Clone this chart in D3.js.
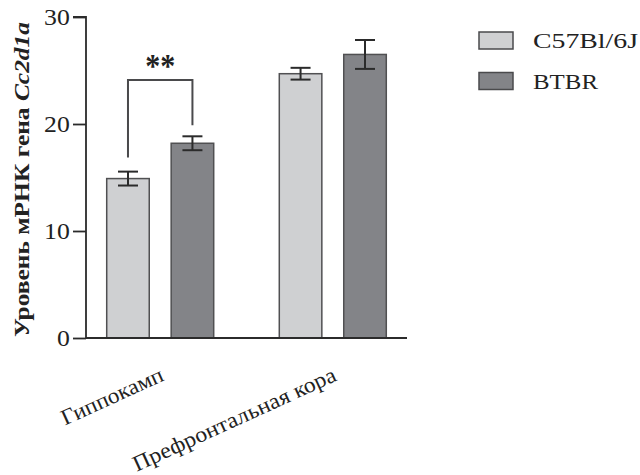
<!DOCTYPE html>
<html>
<head>
<meta charset="utf-8">
<script src="https://cdn.jsdelivr.net/npm/d3@7"></script>
<style>
  html, body { margin: 0; padding: 0; background: #fff; }
  svg { display: block; }
  text { font-family: "Liberation Serif", "DejaVu Serif", serif; fill: #222; }
</style>
</head>
<body>
<svg id="chart" width="640" height="475"></svg>
<script>
// Brain regions and mouse strains
const regions = ["Гиппокамп", "Префронтальная кора"];
const strains = ["C57Bl/6J", "BTBR"];
// Mean expression and SEM per strain, in the order of `regions`
const c57Means = [14.9, 24.7];
const c57Errors = [0.65, 0.55];
const btbrMeans = [18.2, 26.5];
const btbrErrors = [0.65, 1.35];
const yTicks = [0, 10, 20, 30];

const colors = ["#cfd0d2", "#838488"];
// Set widths for the wide serif face used in the labels
const catLengths = [110, 221];
const legendLengths = [105, 65];

const svg = d3.select("#chart");

const y = d3.scaleLinear().domain([0, 30]).range([338, 17]);
const x0 = d3.scaleBand().domain(regions).range([86, 407]).paddingInner(0.38).paddingOuter(0.12);
const x1 = d3.scaleBand().domain(strains).range([0, x0.bandwidth()]).paddingInner(0.34);

const rows = regions.map((r, i) => ({
  region: r,
  values: [
    { strain: strains[0], mean: c57Means[i], err: c57Errors[i] },
    { strain: strains[1], mean: btbrMeans[i], err: btbrErrors[i] }
  ]
}));

// Bars
const groups = svg.selectAll("g.group").data(rows).join("g")
  .attr("class", "group")
  .attr("transform", d => `translate(${x0(d.region)},0)`);

groups.selectAll("rect").data(d => d.values).join("rect")
  .attr("x", d => x1(d.strain))
  .attr("y", d => y(d.mean))
  .attr("width", x1.bandwidth())
  .attr("height", d => y(0) - y(d.mean))
  .attr("fill", (d, i) => colors[i])
  .attr("stroke", "#505052")
  .attr("stroke-width", 1.5);

// Error bars
const cap = 10;
groups.selectAll("g.err").data(d => d.values).join("g")
  .attr("class", "err")
  .each(function(d) {
    const g = d3.select(this);
    const cx = x1(d.strain) + x1.bandwidth() / 2;
    const top = y(d.mean + d.err), bot = y(d.mean - d.err);
    g.append("line").attr("x1", cx).attr("x2", cx).attr("y1", top).attr("y2", bot);
    g.append("line").attr("x1", cx - cap).attr("x2", cx + cap).attr("y1", top).attr("y2", top);
    g.append("line").attr("x1", cx - cap).attr("x2", cx + cap).attr("y1", bot).attr("y2", bot);
  })
  .selectAll("line")
  .attr("stroke", "#2b2b2b")
  .attr("stroke-width", 2);

// Y axis
const yAxis = svg.append("g")
  .attr("transform", "translate(86,0)")
  .call(d3.axisLeft(y).tickValues(yTicks).tickSize(13).tickPadding(3));
yAxis.select(".domain").attr("stroke", "#2b2b2b").attr("stroke-width", 1.8)
  .attr("d", `M-13,${y(30)}H0V${y(0)}`);
yAxis.selectAll(".tick line").attr("stroke", "#2b2b2b").attr("stroke-width", 1.8);
yAxis.selectAll(".tick text").attr("font-size", 23)
  .style("font-family", "Liberation Serif, serif").attr("fill", "#222")
  .attr("transform", "translate(-14,0) scale(1.12,1) translate(14,0)");

// X axis baseline
svg.append("line")
  .attr("x1", 86).attr("x2", 407)
  .attr("y1", y(0)).attr("y2", y(0))
  .attr("stroke", "#2b2b2b").attr("stroke-width", 2.2);

// Category labels
svg.selectAll("text.cat").data(regions).join("text")
  .attr("class", "cat")
  .attr("text-anchor", "end")
  .attr("font-size", 22)
  .attr("textLength", (d, i) => catLengths[i])
  .attr("lengthAdjust", "spacingAndGlyphs")
  .attr("transform", d => `translate(${x0(d) + x0.bandwidth() / 2 + 5},380) rotate(-24.5)`)
  .text(d => d);

// Y axis title
const yTitle = svg.append("text")
  .attr("transform", `translate(29,${(y(0) + y(30)) / 2 + 2}) rotate(-90)`)
  .attr("text-anchor", "middle")
  .attr("font-size", 22)
  .attr("font-weight", "bold")
  .attr("textLength", 315)
  .attr("lengthAdjust", "spacingAndGlyphs");
yTitle.append("tspan").text("Уровень мРНК гена ");
yTitle.append("tspan").attr("font-style", "italic").text("Cc2d1a");

// Significance bracket for hippocampus
const hip = rows[0];
const hx = x0(hip.region);
const xa = hx + x1(strains[0]) + x1.bandwidth() / 2;
const xb = hx + x1(strains[1]) + x1.bandwidth() / 2;
const bracketTop = 80;
svg.append("path")
  .attr("d", `M${xa},${y(hip.values[0].mean + hip.values[0].err) - 14}V${bracketTop}H${xb}V${y(hip.values[1].mean + hip.values[1].err) - 11}`)
  .attr("fill", "none")
  .attr("stroke", "#4a4a4c")
  .attr("stroke-width", 2);
svg.append("text")
  .attr("x", (xa + xb) / 2)
  .attr("y", 77)
  .attr("text-anchor", "middle")
  .attr("font-size", 34)
  .attr("font-weight", "bold")
  .attr("textLength", 30)
  .attr("lengthAdjust", "spacingAndGlyphs")
  .text("**");

// Legend
const legend = svg.selectAll("g.legend").data(strains).join("g")
  .attr("class", "legend")
  .attr("transform", (d, i) => `translate(479,${32 + i * 40.5})`);
legend.append("rect")
  .attr("width", 34).attr("height", 17)
  .attr("fill", (d, i) => colors[i])
  .attr("stroke", "#4a4a4c").attr("stroke-width", 1.5);
legend.append("text")
  .attr("x", 54).attr("y", 16)
  .attr("font-size", 22)
  .attr("textLength", (d, i) => legendLengths[i])
  .attr("lengthAdjust", "spacingAndGlyphs")
  .text(d => d);
</script>
</body>
</html>
